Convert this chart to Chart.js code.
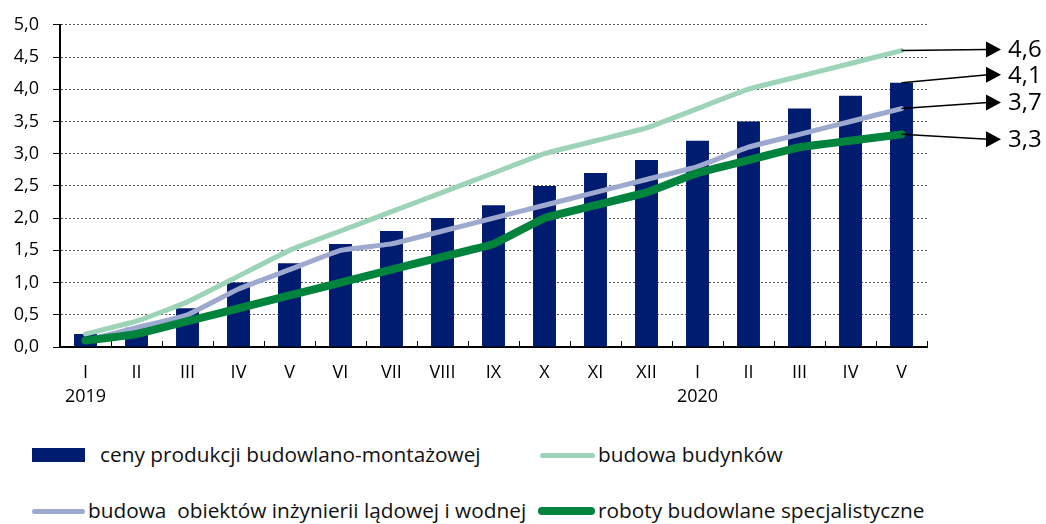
<!DOCTYPE html>
<html>
<head>
<meta charset="utf-8">
<script src="https://cdn.jsdelivr.net/npm/chart.js@4"></script>
<style>
  body { margin: 0; background: #fff; font-family: "Open Sans", sans-serif; }
  #wrap { position: relative; width: 1046px; height: 524px; }
  #chart { position: absolute; left: 0; top: 0; }
  .leg { position: absolute; font-size: 20.8px; color: #111; white-space: pre; line-height: 26px; }
  .sw { position: absolute; }
</style>
</head>
<body>
<div id="wrap">
  <canvas id="chart" width="1046" height="420"></canvas>
  <div id="legend"></div>
</div>
<script>
// Data
const months = ['I', 'II', 'III', 'IV', 'V', 'VI', 'VII', 'VIII', 'IX', 'X', 'XI', 'XII', 'I', 'II', 'III', 'IV', 'V'];
const years = ['2019', '', '', '', '', '', '', '', '', '', '', '', '2020', '', '', '', ''];

const cenyProdukcji = [0.2, 0.3, 0.6, 1.0, 1.3, 1.6, 1.8, 2.0, 2.2, 2.5, 2.7, 2.9, 3.2, 3.5, 3.7, 3.9, 4.1];
const budowaBudynkow = [0.2, 0.4, 0.7, 1.1, 1.5, 1.8, 2.1, 2.4, 2.7, 3.0, 3.2, 3.4, 3.7, 4.0, 4.2, 4.4, 4.6];
const obiektyInzynierii = [0.1, 0.3, 0.5, 0.9, 1.2, 1.5, 1.6, 1.8, 2.0, 2.2, 2.4, 2.6, 2.8, 3.1, 3.3, 3.5, 3.7];
const robotySpecjalistyczne = [0.1, 0.2, 0.4, 0.6, 0.8, 1.0, 1.2, 1.4, 1.6, 2.0, 2.2, 2.4, 2.7, 2.9, 3.1, 3.2, 3.3];

const yTicks = [0, 0.5, 1, 1.5, 2, 2.5, 3, 3.5, 4, 4.5, 5];

const colors = {
  bar: '#001c71',
  budynki: '#9dd3b6',
  inzynieria: '#9ea9cf',
  roboty: '#00843d'
};

const fontFamily = "'Open Sans', sans-serif";

// Arrow + value labels at the right end of the series
const arrowLabels = {
  id: 'arrowLabels',
  afterDatasetsDraw(chart, args, opts) {
    const ctx = chart.ctx;
    ctx.save();
    opts.items.forEach(item => {
      const meta = chart.getDatasetMeta(item.datasetIndex);
      const data = chart.data.datasets[item.datasetIndex].data;
      const el = meta.data[meta.data.length - 1];
      const value = data[data.length - 1];
      const x0 = el.x;
      const y0 = el.y;
      const ly = y0 + item.dy;
      ctx.strokeStyle = '#000';
      ctx.fillStyle = '#000';
      ctx.lineWidth = 1.5;
      ctx.beginPath();
      ctx.moveTo(x0, y0);
      ctx.lineTo(988, ly);
      ctx.stroke();
      ctx.beginPath();
      ctx.moveTo(986, ly - 8);
      ctx.lineTo(1001, ly);
      ctx.lineTo(986, ly + 8);
      ctx.closePath();
      ctx.fill();
      ctx.font = '24px ' + fontFamily;
      ctx.textAlign = 'left';
      ctx.textBaseline = 'middle';
      ctx.fillText(value.toFixed(1).replace('.', ','), 1008, ly + 1);
    });
    ctx.restore();
  }
};

const ctx = document.getElementById('chart');
new Chart(ctx, {
  type: 'bar',
  data: {
    labels: months.map((m, i) => [m, years[i]]),
    datasets: [
      {
        label: 'ceny produkcji budowlano-montażowej',
        data: cenyProdukcji,
        backgroundColor: colors.bar,
        barPercentage: 0.45,
        categoryPercentage: 1,
        order: 10
      },
      {
        type: 'line',
        label: 'budowa budynków',
        data: budowaBudynkow,
        borderColor: colors.budynki,
        borderWidth: 5,
        pointRadius: 0,
        tension: 0.1,
        borderCapStyle: 'round',
        borderJoinStyle: 'round',
        order: 3
      },
      {
        type: 'line',
        label: 'budowa  obiektów inżynierii lądowej i wodnej',
        data: obiektyInzynierii,
        borderColor: colors.inzynieria,
        borderWidth: 5,
        pointRadius: 0,
        tension: 0.1,
        borderCapStyle: 'round',
        borderJoinStyle: 'round',
        order: 2
      },
      {
        type: 'line',
        label: 'roboty budowlane specjalistyczne',
        data: robotySpecjalistyczne,
        borderColor: colors.roboty,
        borderWidth: 8,
        pointRadius: 0,
        tension: 0.1,
        borderCapStyle: 'round',
        borderJoinStyle: 'round',
        order: 1
      }
    ]
  },
  options: {
    responsive: false,
    animation: false,
    devicePixelRatio: 1,
    layout: { padding: { top: 22, right: 119, bottom: 0, left: 0 } },
    plugins: {
      legend: { display: false },
      tooltip: { enabled: false },
      arrowLabels: {
        items: [
          { datasetIndex: 1, dy: -1 },
          { datasetIndex: 0, dy: -8 },
          { datasetIndex: 2, dy: -6 },
          { datasetIndex: 3, dy: 5 }
        ]
      }
    },
    scales: {
      x: {
        offset: true,
        grid: {
          offset: true,
          drawOnChartArea: false,
          drawTicks: true,
          tickLength: -6,
          tickColor: '#000',
          tickWidth: 1
        },
        border: { display: true, color: '#000', width: 2 },
        ticks: {
          color: '#000',
          padding: 19,
          maxRotation: 0,
          autoSkip: false,
          font: { family: fontFamily, size: 18, lineHeight: 1.38 }
        },
        afterFit: function(scale) { scale.height = 73; }
      },
      y: {
        min: 0,
        max: 5,
        afterBuildTicks: function(scale) {
          scale.ticks = yTicks.map(v => ({ value: v }));
        },
        grid: {
          color: '#555',
          lineWidth: 1,
          tickLength: 7,
          tickColor: '#000',
          tickWidth: 1
        },
        border: { display: true, color: '#000', width: 2, dash: [2, 2] },
        ticks: {
          color: '#000',
          padding: 14,
          font: { family: fontFamily, size: 18 },
          callback: function(value) {
            return value.toFixed(1).replace('.', ',');
          }
        },
        afterFit: function(scale) { scale.width = 60; }
      }
    }
  },
  plugins: [arrowLabels]
});

// Legend (two rows, as in the source figure)
const legendItems = [
  { text: 'ceny produkcji budowlano-montażowej', kind: 'box', color: colors.bar, sx: 32, sw: 53, tx: 100, y: 455 },
  { text: 'budowa budynków', kind: 'line', color: colors.budynki, sx: 540, sw: 55, th: 5, tx: 598, y: 455 },
  { text: 'budowa  obiektów inżynierii lądowej i wodnej', kind: 'line', color: colors.inzynieria, sx: 32, sw: 53, th: 5, tx: 88, y: 511 },
  { text: 'roboty budowlane specjalistyczne', kind: 'line', color: colors.roboty, sx: 538, sw: 57, th: 8, tx: 598, y: 511 }
];
const legendEl = document.getElementById('legend');
legendItems.forEach(item => {
  const sw = document.createElement('div');
  sw.className = 'sw';
  const h = item.kind === 'box' ? 14 : item.th;
  sw.style.left = item.sx + 'px';
  sw.style.top = (item.y - h / 2) + 'px';
  sw.style.width = item.sw + 'px';
  sw.style.height = h + 'px';
  sw.style.background = item.color;
  if (item.kind === 'line') sw.style.borderRadius = (h / 2) + 'px';
  legendEl.appendChild(sw);
  const t = document.createElement('div');
  t.className = 'leg';
  t.style.left = item.tx + 'px';
  t.style.top = (item.y - 14) + 'px';
  t.textContent = item.text;
  legendEl.appendChild(t);
});
</script>
</body>
</html>
